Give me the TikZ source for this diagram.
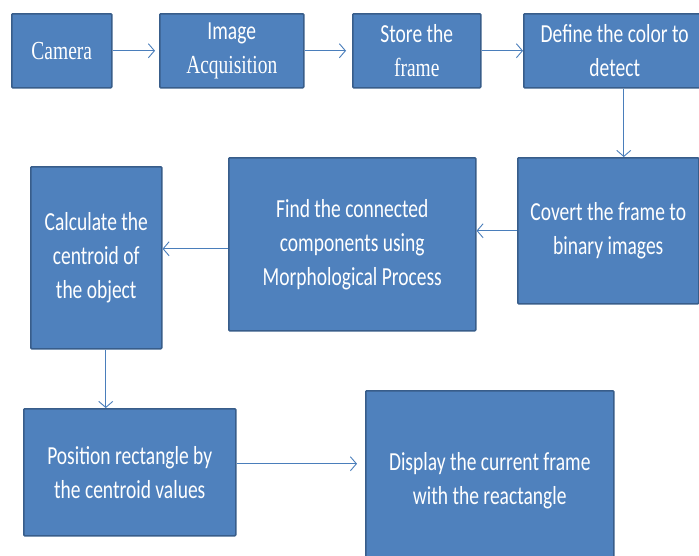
\documentclass[tikz,border=0pt]{standalone}
\usepackage{fontspec}
\newfontfamily\boxsans{Carlito}[FakeStretch=0.75]
\newfontfamily\boxserif{Liberation Serif}[FakeStretch=0.75]
\usetikzlibrary{calc, arrows.meta}
\definecolor{boxfill}{HTML}{4F81BD}
\definecolor{boxline}{HTML}{385D8A}
\definecolor{arrowcol}{HTML}{4A7EBB}
\tikzset{
	stage/.style={draw=boxline, fill=boxfill, line width=1.5pt, rounded corners=1pt,
		anchor=north west, text=white, align=center, inner sep=0pt,
		font=\boxsans\fontsize{26}{34}\selectfont},
	flow/.style={arrowcol, line width=0.9pt, -{Straight Barb[length=6pt, width=14pt]}}
}
\begin{document}
\begin{tikzpicture}[x=1pt,y=-1pt]
		\useasboundingbox (0,0) rectangle (699,555);
		\clip (0,0) rectangle (699,555);
		%
		\node[stage, minimum width=100pt, minimum height=74pt] (cam) at (11,13) {\boxserif Camera};
		\node[stage, minimum width=144pt, minimum height=74pt] (acq) at (159,13) {Image\\{\boxserif Acquisition}};
		\node[stage, minimum width=128pt, minimum height=74pt] (store) at (352,13) {Store the\\{\boxserif frame}};
		\node[stage, minimum width=182pt, minimum height=74pt] (define) at (523,13) {Define the color to\\detect};
		%
		\node[stage, minimum width=181pt, minimum height=146pt] (covert) at (517,157) {Covert the frame to\\binary images};
		\node[stage, minimum width=247pt, minimum height=173pt] (find) at (228,157) {Find the connected\\components using\\Morphological Process};
		\node[stage, minimum width=131pt, minimum height=182pt] (calc) at (30,166) {Calculate the\\centroid of\\the object};
		%
		\node[stage, minimum width=212pt, minimum height=127pt] (pos) at (23,408) {Position rectangle by\\the centroid values};
		\node[stage, minimum width=248pt, minimum height=180pt] (disp) at (365,390) {Display the current frame\\with the reactangle};
		%
		\coordinate (dout) at ([xshift=9pt]define.south);
		\coordinate (fout) at ([yshift=-4.5pt]find.west);
		\coordinate (cout) at ([xshift=9.5pt]calc.south);
		\coordinate (pout) at ([yshift=8.5pt]pos.east);
		%
		\draw[flow, shorten >=4pt] (cam.east) -- (acq.west);
		\draw[flow, shorten >=6pt] (acq.east) -- (store.west);
		\draw[flow] (store.east) -- (define.west);
		\draw[flow] (dout) -- (dout |- covert.north);
		\draw[flow] (covert.west) -- (covert.west -| find.east);
		\draw[flow] (fout) -- (fout -| calc.east);
		\draw[flow] (cout) -- (cout |- pos.north);
		\draw[flow, shorten >=8pt] (pout) -- (pout -| disp.west);
	\end{tikzpicture}
\end{document}
